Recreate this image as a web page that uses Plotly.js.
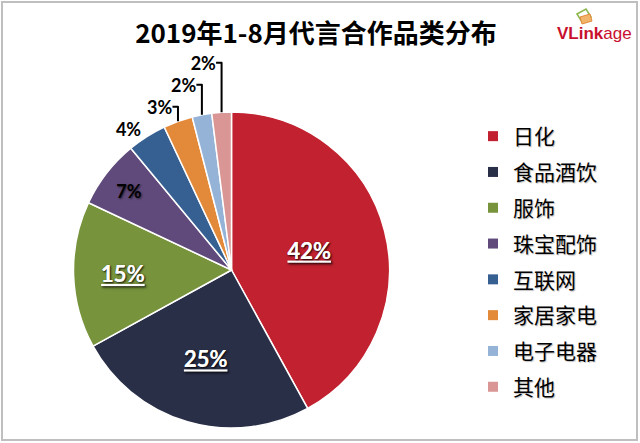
<!DOCTYPE html>
<html>
<head>
<meta charset="utf-8">
<script src="https://cdn.plot.ly/plotly-3.0.1.min.js"></script>
<style>
  html, body { margin: 0; padding: 0; background: #fff; }
  #chart { width: 640px; height: 443px; }
</style>
</head>
<body>
<div id="chart"></div>
<script>
// data
const categories = ['日化', '食品酒饮', '服饰', '珠宝配饰', '互联网', '家居家电', '电子电器', '其他'];
const shares = [42, 25, 15, 7, 4, 3, 2, 2]; // percent
const colors = ['#C2212F', '#2A2F48', '#77933C', '#604A7B', '#376092', '#E38A3A', '#95B3D7', '#D99694'];

const W = 640, H = 443;
const px = x => x / W;          // pixel -> paper (margins are 0)
const py = y => 1 - y / H;

// big slices get white underlined labels inside, small ones black
const labelText = shares.map(v => v >= 10 ? '<u>' + v + '%</u>' : v + '%');
const labelPos = shares.map(v => v >= 5 ? 'inside' : 'outside');
const labelColor = shares.map(v => v >= 10 ? '#ffffff' : '#000000');
const labelSize = shares.map(v => v >= 10 ? 22 : 18);

const pie = {
    type: 'pie',
    labels: categories,
    values: shares,
    text: labelText,
    textinfo: 'text',
    textposition: labelPos,
    insidetextorientation: 'horizontal',
    sort: false,
    direction: 'clockwise',
    rotation: 0,
    marker: {colors: colors, line: {color: '#ffffff', width: 1.5}},
    textfont: {family: 'Lato, "Open Sans", sans-serif', weight: 700, color: labelColor, size: labelSize},
    insidetextfont: {family: 'Lato, "Open Sans", sans-serif', weight: 700, color: labelColor, size: labelSize,
                     shadow: '1px 1px 2px rgba(0,0,0,0.55)'},
    outsidetextfont: {family: 'Lato, "Open Sans", sans-serif', weight: 700, color: '#000000', size: 18},
    domain: {x: [px(73), px(390)], y: [py(428), py(112)]},
    showlegend: false,
    hoverinfo: 'skip'
};

// legend entries as empty marker traces so the row spacing can be set
const legendTraces = categories.map((c, i) => ({
    type: 'scatter',
    mode: 'markers',
    x: [null], y: [null],
    name: c,
    legendgroup: c,
    marker: {symbol: 'square', size: 10, color: colors[i]},
    hoverinfo: 'skip'
}));

const layout = {
    width: W,
    height: H,
    margin: {l: 0, r: 0, t: 0, b: 0},
    paper_bgcolor: '#ffffff',
    plot_bgcolor: 'rgba(0,0,0,0)',
    xaxis: {visible: false, fixedrange: true},
    yaxis: {visible: false, fixedrange: true},
    title: {
        text: '<b>2019年1-8月代言合作品类分布</b>',
        font: {family: '"Noto Sans CJK SC", sans-serif', size: 26, color: '#000000'},
        x: px(316), xanchor: 'center',
        y: py(34), yanchor: 'middle'
    },
    legend: {
        x: px(473), xanchor: 'left',
        y: py(116), yanchor: 'top',
        tracegroupgap: 5.5,
        font: {family: '"Noto Sans CJK SC", sans-serif', size: 21, color: '#000000',
               shadow: '1px 1px 1px rgba(0,0,0,0.25)'},
        bgcolor: 'rgba(0,0,0,0)'
    },
    annotations: [{
        text: '<b>VLink</b>age',
        xref: 'paper', yref: 'paper',
        x: px(634), xanchor: 'right',
        y: py(33), yanchor: 'middle',
        showarrow: false,
        font: {family: '"Liberation Sans", Arial, sans-serif', size: 17, color: '#C8102E'}
    }],
    shapes: [
        // outer frame
        {type: 'rect', xref: 'paper', yref: 'paper', x0: px(2), x1: px(637), y0: py(440), y1: py(2),
         line: {color: '#BFBFBF', width: 2}},
        // logo icon
        {type: 'path', xref: 'paper', yref: 'paper',
         path: `M ${px(577)} ${py(14)} L ${px(586)} ${py(9)} L ${px(591)} ${py(17)} L ${px(582)} ${py(22)} Z`,
         fillcolor: 'rgba(0,0,0,0)', line: {color: '#8DB850', width: 1.6}},
        {type: 'path', xref: 'paper', yref: 'paper',
         path: `M ${px(580)} ${py(17)} L ${px(590)} ${py(14)} L ${px(592)} ${py(21)} L ${px(582)} ${py(24)} Z`,
         fillcolor: '#F2B36A', line: {color: '#E38A3A', width: 1}}
    ]
};

Plotly.newPlot('chart', [pie].concat(legendTraces), layout, {staticPlot: true});
</script>
</body>
</html>
